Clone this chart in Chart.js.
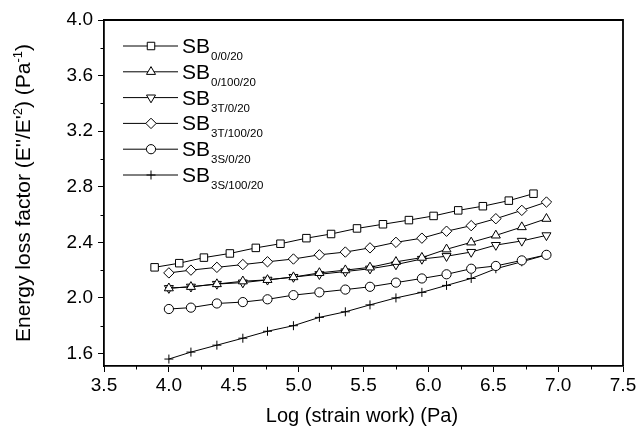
<!DOCTYPE html>
<html lang="en">
<head>
  <meta charset="UTF-8">
  <title>Energy loss factor</title>
  <style>
    html, body {
      margin: 0;
      padding: 0;
      background-color: #fff;
    }
    #grafico {
      display: block;
    }
  </style>
</head>
<body>
  <canvas id="grafico" width="643" height="439"></canvas>

  <script src="https://cdn.jsdelivr.net/npm/chart.js"></script>
  <script>
    // log strain work (Pa)
    const xSquares = [3.89, 4.08, 4.27, 4.47, 4.67, 4.86, 5.06, 5.25, 5.45, 5.65, 5.85, 6.04, 6.23, 6.42, 6.62, 6.81];
    const xOthers  = [4.00, 4.17, 4.37, 4.57, 4.76, 4.96, 5.16, 5.36, 5.55, 5.75, 5.95, 6.14, 6.33, 6.52, 6.72, 6.91];

    // energy loss factor
    const sb_0_0_20    = [2.22, 2.25, 2.29, 2.32, 2.36, 2.39, 2.43, 2.46, 2.50, 2.53, 2.56, 2.59, 2.63, 2.66, 2.70, 2.75];
    const sb_0_100_20  = [2.07, 2.08, 2.10, 2.12, 2.13, 2.15, 2.18, 2.20, 2.22, 2.26, 2.29, 2.35, 2.40, 2.45, 2.51, 2.57];
    const sb_3T_0_20   = [2.07, 2.08, 2.10, 2.11, 2.13, 2.15, 2.17, 2.19, 2.21, 2.24, 2.28, 2.30, 2.33, 2.38, 2.41, 2.45];
    const sb_3T_100_20 = [2.18, 2.20, 2.22, 2.24, 2.26, 2.28, 2.31, 2.33, 2.36, 2.40, 2.43, 2.48, 2.52, 2.57, 2.63, 2.69];
    const sb_3S_0_20   = [1.92, 1.93, 1.96, 1.97, 1.99, 2.02, 2.04, 2.06, 2.08, 2.11, 2.14, 2.17, 2.21, 2.23, 2.27, 2.31];
    const sb_3S_100_20 = [1.56, 1.61, 1.66, 1.71, 1.76, 1.80, 1.86, 1.90, 1.95, 2.00, 2.04, 2.09, 2.14, 2.21, 2.26, 2.31];

    const legendSubs = ['0/0/20', '0/100/20', '3T/0/20', '3T/100/20', '3S/0/20', '3S/100/20'];
    const xTicks = [3.5, 4.0, 4.5, 5.0, 5.5, 6.0, 6.5, 7.0, 7.5];
    const yTicks = [1.6, 2.0, 2.4, 2.8, 3.2, 3.6, 4.0];

    const fonte = 'Arial, "Liberation Sans", sans-serif';

    function pontos(xs, ys) {
      return xs.map((x, i) => ({ x: x, y: ys[i] }));
    }

    function serie(xs, ys, estilo, raio, rot) {
      return {
        data: pontos(xs, ys),
        borderColor: '#000',
        borderWidth: 1,
        pointStyle: estilo,
        pointRadius: raio,
        pointRotation: rot || 0,
        pointBackgroundColor: '#fff',
        pointBorderColor: '#000',
        pointBorderWidth: 1,
        tension: 0
      };
    }

    // frame, minor ticks, axis titles and legend with subscripts
    const extras = {
      id: 'extras',
      afterDraw(chart) {
        const ctx = chart.ctx;
        const a = chart.chartArea;
        const sx = chart.scales.x;
        const sy = chart.scales.y;
        ctx.save();
        ctx.strokeStyle = '#000';
        ctx.lineWidth = 1.8;
        ctx.beginPath();
        ctx.moveTo(a.left, a.top);
        ctx.lineTo(a.right, a.top);
        ctx.lineTo(a.right, a.bottom);
        ctx.stroke();

        ctx.lineWidth = 1;
        ctx.beginPath();
        for (let v = 3.75; v < 7.5; v += 0.5) {
          const px = Math.round(sx.getPixelForValue(v)) + 0.5;
          ctx.moveTo(px, a.bottom);
          ctx.lineTo(px, a.bottom + 3.5);
        }
        for (let v = 1.8; v < 4.0; v += 0.4) {
          const py = Math.round(sy.getPixelForValue(v)) + 0.5;
          ctx.moveTo(a.left, py);
          ctx.lineTo(a.left - 3.5, py);
        }
        ctx.stroke();

        ctx.fillStyle = '#000';
        ctx.font = '20px ' + fonte;
        ctx.textAlign = 'center';
        ctx.textBaseline = 'middle';
        ctx.fillText('Log (strain work) (Pa)', 362, 416);

        // y title, rotated, with superscripts
        const partes = [
          { t: "Energy loss factor (E''/E'", sup: false },
          { t: '2', sup: true },
          { t: ') (Pa', sup: false },
          { t: '-1', sup: true },
          { t: ')', sup: false }
        ];
        const fN = '21px ' + fonte;
        const fS = '13px ' + fonte;
        let total = 0;
        partes.forEach(p => {
          ctx.font = p.sup ? fS : fN;
          p.w = ctx.measureText(p.t).width;
          total += p.w;
        });
        ctx.translate(23, 193);
        ctx.rotate(-Math.PI / 2);
        ctx.textAlign = 'left';
        ctx.textBaseline = 'alphabetic';
        let cx = -total / 2;
        partes.forEach(p => {
          ctx.font = p.sup ? fS : fN;
          ctx.fillText(p.t, cx, p.sup ? -1 : 7);
          cx += p.w;
        });
        ctx.setTransform(1, 0, 0, 1, 0, 0);

        // legend
        chart.data.datasets.forEach((ds, i) => {
          const y = 46 + i * 25.8;
          ctx.strokeStyle = '#000';
          ctx.lineWidth = 1;
          ctx.beginPath();
          ctx.moveTo(123, y);
          ctx.lineTo(178, y);
          ctx.stroke();
          ctx.fillStyle = '#fff';
          Chart.helpers.drawPoint(ctx, {
            pointStyle: ds.pointStyle,
            rotation: ds.pointRotation,
            radius: ds.pointRadius,
            borderWidth: 1
          }, 151, y);
          ctx.fillStyle = '#000';
          ctx.font = '21px ' + fonte;
          ctx.textAlign = 'left';
          ctx.fillText('SB', 182, y + 7);
          const w = ctx.measureText('SB').width;
          ctx.font = '11.5px ' + fonte;
          ctx.fillText(legendSubs[i], 182 + w + 1, y + 14);
        });
        ctx.restore();
      }
    };

    const ctx = document.getElementById('grafico').getContext('2d');
    const grafico = new Chart(ctx, {
      type: 'line',
      data: {
        datasets: [
          serie(xSquares, sb_0_0_20, 'rect', 5.3),
          serie(xOthers, sb_0_100_20, 'triangle', 5.2),
          serie(xOthers, sb_3T_0_20, 'triangle', 5.2, 180),
          serie(xOthers, sb_3T_100_20, 'rectRot', 5.2),
          serie(xOthers, sb_3S_0_20, 'circle', 4.6),
          serie(xOthers, sb_3S_100_20, 'cross', 4.5)
        ]
      },
      options: {
        responsive: false,
        animation: false,
        devicePixelRatio: 1,
        layout: { padding: { top: 20, right: 20, left: 0, bottom: 0 } },
        plugins: {
          legend: { display: false },
          tooltip: { enabled: false }
        },
        scales: {
          x: {
            type: 'linear',
            min: 3.5,
            max: 7.5,
            afterBuildTicks: s => { s.ticks = xTicks.map(v => ({ value: v })); },
            afterFit: s => { s.height = 73; },
            ticks: {
              callback: v => v.toFixed(1),
              color: '#000',
              font: { family: fonte, size: 19 },
              padding: 2,
              maxRotation: 0,
              autoSkip: false
            },
            grid: { drawOnChartArea: false, tickLength: 6, color: '#000', lineWidth: 1 },
            border: { color: '#000', width: 1.8 }
          },
          y: {
            min: 1.51,
            max: 4.0,
            afterBuildTicks: s => { s.ticks = yTicks.map(v => ({ value: v })); },
            afterFit: s => { s.width = 104; },
            ticks: {
              callback: v => v.toFixed(1),
              color: '#000',
              font: { family: fonte, size: 19 },
              padding: 5
            },
            grid: { drawOnChartArea: false, tickLength: 6, color: '#000', lineWidth: 1 },
            border: { color: '#000', width: 1.8 }
          }
        }
      },
      plugins: [extras]
    });
  </script>
</body>
</html>
